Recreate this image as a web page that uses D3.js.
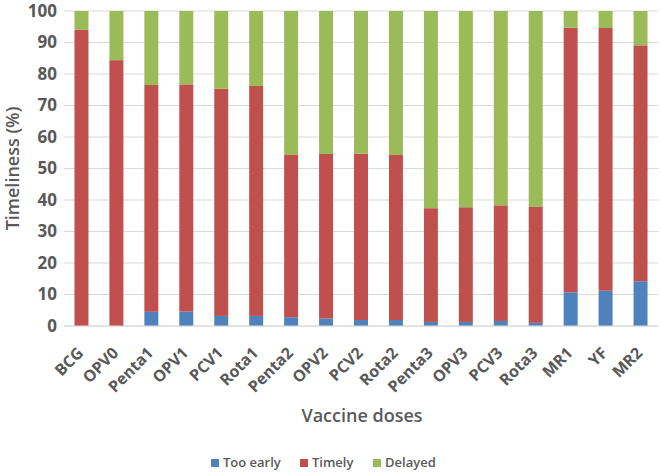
<!DOCTYPE html>
<html><head><meta charset="utf-8">
<script src="https://cdn.jsdelivr.net/npm/d3@7"></script>
<style>
html,body{margin:0;padding:0;background:#fff;}
text{font-family:"Open Sans",sans-serif;fill:#595959;}
</style></head>
<body><svg id="chart" width="661" height="473"></svg>
<script>
const categories = ["BCG","OPV0","Penta1","OPV1","PCV1","Rota1","Penta2","OPV2","PCV2","Rota2","Penta3","OPV3","PCV3","Rota3","MR1","YF","MR2"];
const tooEarly = [0,0,4.5,4.6,3.2,3.2,2.8,2.4,1.9,1.9,1.3,1.3,1.6,1.0,10.7,11.2,14.2];
const timely   = [94.0,84.4,72.0,72.1,72.1,73.0,51.5,52.2,52.8,52.4,36.1,36.4,36.7,36.8,84.0,83.4,74.9];
const delayed  = tooEarly.map((d,i)=>+(100 - d - timely[i]).toFixed(1));
const seriesNames = ["Too early","Timely","Delayed"];
const colors = ["#4F81BD","#C0504D","#9BBB59"];
const yTicks = [0,10,20,30,40,50,60,70,80,90,100];

const svg = d3.select("#chart");
const m = {left:64, right:3, top:11, bottom:147};
const W = 661, H = 473;
const x = d3.scaleBand().domain(categories).range([m.left, W-m.right]).paddingInner(0.6).paddingOuter(0.3);
const y = d3.scaleLinear().domain([0,100]).range([H-m.bottom, m.top]);

// gridlines
svg.append("g").selectAll("line").data(yTicks).join("line")
  .attr("x1", m.left).attr("x2", W-m.right)
  .attr("y1", d=>y(d)).attr("y2", d=>y(d))
  .attr("stroke","#D9D9D9").attr("stroke-width",1);

const table = categories.map((c,i)=>({cat:c, "Too early":tooEarly[i], "Timely":timely[i], "Delayed":delayed[i]}));
const stacked = d3.stack().keys(seriesNames)(table);
svg.append("g").selectAll("g").data(stacked).join("g")
  .attr("fill",(d,i)=>colors[i])
  .selectAll("rect").data(d=>d).join("rect")
  .attr("x", d=>x(d.data.cat)).attr("width", x.bandwidth())
  .attr("y", d=>y(d[1])).attr("height", d=>Math.max(0, y(d[0])-y(d[1])));

// y axis
const yAxis = d3.axisLeft(y).tickValues(yTicks).tickSize(0).tickPadding(7);
const gy = svg.append("g").attr("transform",`translate(${m.left},0)`).call(yAxis);
gy.select(".domain").remove();
gy.selectAll("text").style("font-size","17px").style("font-weight","bold").style("font-family","'Open Sans'").style("fill","#595959");

// x axis baseline
svg.append("line").attr("x1",m.left).attr("x2",W-m.right).attr("y1",y(0)).attr("y2",y(0)).attr("stroke","#D9D9D9");

// x labels (rotated -45deg)
svg.append("g").selectAll("text").data(categories).join("text")
  .attr("x", d=>x(d)+x.bandwidth()/2+3)
  .attr("y", y(0)+28)
  .attr("text-anchor","end")
  .attr("transform", d=>`rotate(-45 ${x(d)+x.bandwidth()/2+3} ${y(0)+28})`)
  .style("font-size","16px").style("font-weight","bold")
  .text(d=>d);

// axis titles
svg.append("text").attr("transform",`translate(19,${(y(0)+y(100))/2}) rotate(-90)`)
  .attr("text-anchor","middle").style("font-size","18px").style("font-weight","600").text("Timeliness (%)");
svg.append("text").attr("x",362).attr("y",422).attr("text-anchor","middle")
  .style("font-size","18px").style("font-weight","600").text("Vaccine doses");

// legend
const legX = [211,300,373];
const leg = svg.append("g").selectAll("g").data(seriesNames).join("g")
  .attr("transform",(d,i)=>`translate(${legX[i]},458)`);
leg.append("rect").attr("width",8).attr("height",8).attr("y",1).attr("fill",(d,i)=>colors[i]);
leg.append("text").attr("x",12).attr("y",9).style("font-size","13px").style("font-weight","600").text(d=>d);
</script></body></html>
